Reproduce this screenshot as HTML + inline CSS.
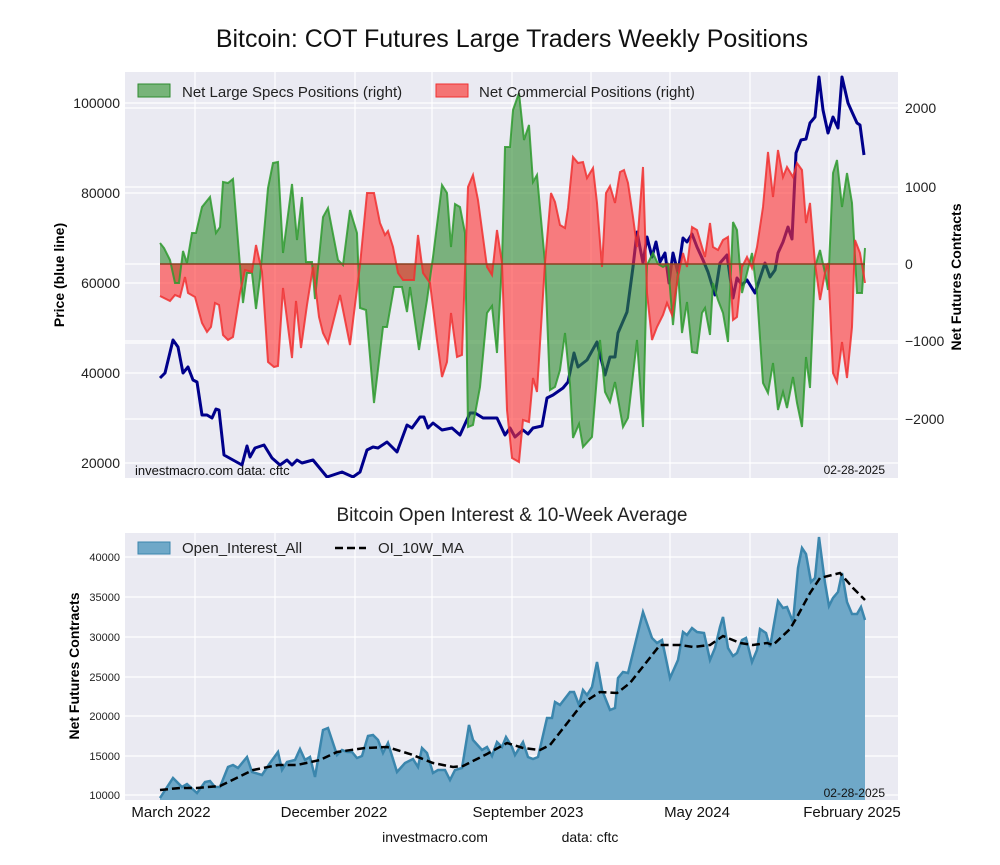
<!DOCTYPE html>
<html><head><meta charset="utf-8"><style>
body{margin:0;background:#fff;}
svg text{font-family:"Liberation Sans",Arial,sans-serif;}
</style></head><body>
<svg id="s" width="1000" height="860" viewBox="0 0 1000 860" xmlns="http://www.w3.org/2000/svg">
<rect width="1000" height="860" fill="#fff"/>
<text x="512" y="47" font-size="25" text-anchor="middle" fill="#111">Bitcoin: COT Futures Large Traders Weekly Positions</text>
<defs>
<clipPath id="c1"><rect x="125" y="72" width="773" height="406"/></clipPath>
<clipPath id="c2"><rect x="125" y="533" width="773" height="267"/></clipPath>
</defs>
<rect x="125" y="72" width="773" height="406" fill="#eaeaf2"/>
<g stroke="#fff" stroke-width="1.2" id="g1"></g>
<g id="top" clip-path="url(#c1)"></g>
<rect x="125" y="533" width="773" height="267" fill="#eaeaf2"/>
<g stroke="#fff" stroke-width="1.2" id="g2"></g>
<g id="bot" clip-path="url(#c2)"></g>
<g font-size="14" fill="#222" text-anchor="end">
<text x="120" y="108">100000</text><text x="120" y="198">80000</text><text x="120" y="288">60000</text><text x="120" y="378">40000</text><text x="120" y="468">20000</text>
</g>
<g font-size="14" fill="#222" text-anchor="start">
<text x="905" y="113">2000</text><text x="905" y="192">1000</text><text x="905" y="269">0</text><text x="905" y="346">−1000</text><text x="905" y="424">−2000</text>
</g>
<text transform="translate(64,275) rotate(-90)" font-size="14" font-weight="bold" text-anchor="middle">Price (blue line)</text>
<text transform="translate(961,277) rotate(-90)" font-size="14" font-weight="bold" text-anchor="middle">Net Futures Contracts</text>
<rect x="138" y="84" width="32" height="13" fill="#5aa65a" fill-opacity="0.8" stroke="#2e8b2e"/>
<text x="182" y="97" font-size="15" fill="#222">Net Large Specs Positions (right)</text>
<rect x="436" y="84" width="32" height="13" fill="#f47474" stroke="#f03030"/>
<text x="479" y="97" font-size="15" fill="#222">Net Commercial Positions (right)</text>
<text x="135" y="475" font-size="13" fill="#111">investmacro.com    data: cftc</text>
<text x="885" y="474" font-size="12" fill="#111" text-anchor="end">02-28-2025</text>

<text x="512" y="521" font-size="19" text-anchor="middle" fill="#222">Bitcoin Open Interest &amp; 10-Week Average</text>
<g font-size="11" fill="#222" text-anchor="end">
<text x="120" y="561">40000</text><text x="120" y="601">35000</text><text x="120" y="641">30000</text><text x="120" y="681">25000</text><text x="120" y="720">20000</text><text x="120" y="760">15000</text><text x="120" y="799">10000</text>
</g>
<text transform="translate(79,666) rotate(-90)" font-size="14" font-weight="bold" text-anchor="middle">Net Futures Contracts</text>
<rect x="138" y="542" width="32" height="12" fill="#6fa8c8" stroke="#3b86ad"/>
<text x="182" y="553" font-size="15" fill="#222">Open_Interest_All</text>
<line x1="335" y1="548" x2="366" y2="548" stroke="#000" stroke-width="2.5" stroke-dasharray="8,4"/>
<text x="378" y="553" font-size="15" fill="#222">OI_10W_MA</text>
<text x="885" y="797" font-size="12" fill="#111" text-anchor="end">02-28-2025</text>
<g font-size="15" fill="#111" text-anchor="middle">
<text x="171" y="817">March 2022</text><text x="334" y="817">December 2022</text><text x="528" y="817">September 2023</text><text x="697" y="817">May 2024</text><text x="852" y="817">February 2025</text>
</g>
<text x="435" y="842" font-size="14" text-anchor="middle" fill="#111">investmacro.com</text>
<text x="590" y="842" font-size="14" text-anchor="middle" fill="#111">data: cftc</text>
</svg>
<script>
var NS="http://www.w3.org/2000/svg";
function el(p,t,a){var e=document.createElementNS(NS,t);for(var k in a)e.setAttribute(k,a[k]);document.getElementById(p).appendChild(e);return e;}
var vx=[195,275,355,432,512,591,670,750,829];
vx.forEach(function(x){el("g1","line",{x1:x,y1:72,x2:x,y2:478});el("g2","line",{x1:x,y1:533,x2:x,y2:800});});
[108,103,187,193,264,283,341,343,373,419,463].forEach(function(y){el("g1","line",{x1:125,y1:y,x2:898,y2:y});});
[557,597,637,677,716,756,795].forEach(function(y){el("g2","line",{x1:125,y1:y,x2:898,y2:y});});
var G=[[160,243],[164,248],[170,260],[175,283],[179,283],[183,251],[187,263],[192,233],[196,233],[202,207],[210,197],[216,233],[220,227],[223,182],[228,183],[233,179],[243,303],[247,273],[252,273],[256,309],[260,278],[268,188],[273,163],[278,162],[283,253],[292,184],[297,240],[302,197],[306,262],[312,262],[315,299],[323,217],[328,208],[338,260],[343,265],[350,210],[357,233],[360,308],[366,310],[374,403],[383,327],[387,327],[394,287],[402,287],[407,312],[410,287],[419,350],[427,300],[433,257],[442,185],[447,193],[451,247],[455,204],[460,207],[465,233],[468,427],[473,425],[480,387],[487,313],[492,306],[497,353],[502,263],[505,147],[510,147],[513,110],[519,93],[524,140],[529,125],[533,182],[537,175],[545,263],[550,390],[555,387],[560,370],[565,333],[570,385],[573,438],[579,424],[583,447],[592,437],[600,340],[605,392],[610,402],[615,382],[623,427],[628,418],[637,340],[643,427],[647,265],[653,253],[658,264],[663,267],[668,264],[673,325],[678,272],[682,333],[687,302],[692,352],[697,353],[702,313],[705,308],[710,335],[713,283],[718,300],[723,313],[728,342],[733,222],[737,230],[742,293],[747,273],[752,253],[757,293],[763,383],[768,393],[773,363],[778,410],[783,392],[787,408],[793,377],[797,403],[802,427],[806,357],[810,388],[815,267],[820,250],[825,273],[828,290],[833,173],[837,160],[842,207],[847,173],[852,203],[857,293],[862,293],[865,248]];
var R=[[160,296],[170,301],[175,295],[180,297],[185,277],[188,293],[195,297],[202,323],[207,332],[211,327],[215,303],[219,305],[223,335],[228,340],[233,337],[240,293],[245,270],[252,272],[256,245],[262,272],[268,362],[274,367],[278,366],[283,288],[292,358],[296,301],[301,348],[307,305],[313,267],[319,317],[323,333],[328,343],[340,295],[350,345],[360,265],[367,193],[374,193],[380,223],[385,235],[388,231],[393,247],[398,273],[403,280],[410,280],[414,280],[418,235],[423,273],[430,283],[437,340],[442,377],[447,362],[451,313],[457,357],[462,355],[468,187],[473,175],[478,200],[487,267],[492,275],[497,230],[502,263],[507,410],[512,458],[519,462],[523,420],[529,422],[533,378],[537,392],[545,263],[551,193],[555,202],[560,225],[565,228],[568,208],[573,157],[578,163],[583,162],[587,178],[593,168],[597,203],[602,267],[606,193],[610,186],[615,203],[620,172],[624,170],[628,183],[633,217],[637,247],[643,167],[647,293],[652,340],[657,327],[663,315],[667,303],[672,315],[678,277],[683,253],[687,267],[692,227],[697,230],[702,247],[705,257],[710,223],[713,247],[718,250],[723,240],[728,237],[733,320],[737,317],[742,267],[747,257],[752,268],[757,247],[763,207],[768,152],[773,197],[778,150],[783,177],[787,167],[793,177],[797,163],[802,170],[806,223],[810,203],[815,263],[820,300],[825,273],[828,263],[833,373],[837,382],[842,342],[847,378],[852,327],[855,240],[860,253],[865,283]];
function area(pts,z){var s="M"+pts[0][0]+","+z;pts.forEach(function(p){s+=" L"+p[0]+","+p[1];});s+=" L"+pts[pts.length-1][0]+","+z+" Z";return s;}
function line(pts){return pts.map(function(p,i){return (i?"L":"M")+p[0]+","+p[1];}).join(" ");}
var B=[[160,378],[165,373],[173,340],[178,347],[183,373],[188,367],[193,380],[197,382],[202,415],[207,415],[212,418],[216,409],[219,410],[224,455],[233,460],[242,465],[247,446],[250,457],[255,448],[264,445],[272,458],[280,465],[287,460],[292,465],[297,460],[302,463],[313,460],[327,477],[342,472],[353,477],[360,472],[367,450],[373,447],[378,448],[387,442],[397,452],[407,425],[412,428],[420,417],[424,417],[428,428],[433,423],[442,430],[452,428],[460,435],[470,413],[475,413],[483,418],[497,418],[505,435],[510,428],[515,437],[523,430],[528,434],[533,428],[542,426],[547,398],[553,395],[563,388],[568,382],[574,353],[578,367],[587,360],[597,342],[605,375],[610,357],[615,357],[618,333],[627,312],[633,267],[637,232],[643,263],[647,237],[652,257],[656,242],[660,262],[665,253],[669,283],[673,253],[678,273],[683,238],[687,242],[692,234],[697,247],[703,260],[708,272],[715,295],[720,263],[727,255],[733,298],[737,278],[742,285],[747,280],[755,293],[765,263],[770,277],[775,270],[778,253],[783,242],[788,227],[792,239],[796,153],[801,140],[806,139],[810,123],[815,117],[819,77],[823,110],[828,133],[833,117],[838,128],[842,77],[848,103],[852,112],[857,123],[860,125],[864,155]];
el("top","path",{d:line(B),fill:"none",stroke:"#00008b","stroke-width":3,"stroke-linejoin":"round"});
el("top","path",{d:area(G,264),fill:"#2e8b2e","fill-opacity":0.6,stroke:"none"});
el("top","path",{d:area(R,264),fill:"#ff3030","fill-opacity":0.6,stroke:"none"});
el("top","path",{d:line(G),fill:"none",stroke:"#2e9a2e","stroke-width":2,"stroke-opacity":0.85});
el("top","path",{d:line(R),fill:"none",stroke:"#f03030","stroke-width":2,"stroke-opacity":0.85});
el("top","line",{x1:160,y1:264,x2:865,y2:264,stroke:"#8a4020","stroke-width":1.5});
var O=[[160,798],[173,778],[182,787],[187,784],[197,793],[205,782],[210,781],[215,787],[220,787],[228,767],[233,765],[238,768],[247,757],[252,772],[262,775],[270,763],[278,752],[282,770],[287,762],[295,760],[300,749],[305,760],[310,757],[315,777],[323,730],[328,728],[337,755],[342,750],[347,752],[352,752],[357,758],[362,756],[368,736],[373,735],[378,740],[383,753],[388,743],[397,772],[405,763],[413,759],[418,767],[422,748],[427,753],[433,773],[438,770],[445,770],[450,780],[455,770],[462,768],[469,725],[473,740],[482,750],[487,747],[492,756],[497,742],[502,747],[506,737],[512,747],[515,755],[523,742],[528,757],[533,759],[538,757],[547,718],[552,718],[555,702],[560,705],[570,692],[574,692],[579,705],[583,690],[587,695],[592,687],[597,662],[602,690],[610,710],[615,708],[618,678],[623,672],[628,673],[643,612],[652,638],[657,643],[662,640],[670,678],[678,660],[683,632],[687,635],[692,628],[697,632],[704,633],[710,660],[715,648],[720,627],[723,617],[728,648],[733,656],[737,653],[742,640],[746,638],[752,662],[757,650],[760,629],[766,633],[770,647],[778,601],[783,608],[787,607],[793,622],[798,568],[802,548],[806,554],[811,582],[815,578],[819,537],[825,583],[829,606],[833,598],[838,592],[842,573],[847,602],[852,614],[857,614],[861,607],[865,620]];
el("bot","path",{d:area(O,800),fill:"#6fa8c8",stroke:"none"});
el("bot","path",{d:line(O),fill:"none",stroke:"#3b86ad","stroke-width":2.5});
var M=[[160,790],[180,788],[197,788],[220,786],[253,770],[278,765],[297,765],[320,760],[337,752],[365,748],[387,747],[410,754],[433,763],[453,767],[463,766],[487,754],[507,743],[523,748],[540,750],[550,745],[583,703],[600,692],[617,693],[630,683],[660,645],[680,645],[693,647],[710,645],[723,636],[740,643],[753,645],[767,643],[773,645],[790,629],[797,617],[810,593],[820,578],[840,573],[853,588],[865,600]];
el("bot","path",{d:line(M),fill:"none",stroke:"#000","stroke-width":2.5,"stroke-dasharray":"8,4"});
</script>
</body></html>
